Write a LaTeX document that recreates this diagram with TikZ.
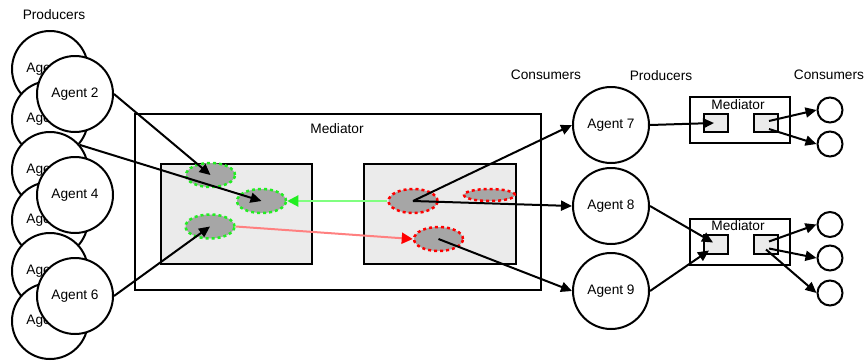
\documentclass[tikz,border=0pt]{standalone}
\usepackage{fontspec}
\setmainfont{Liberation Sans}
\usetikzlibrary{arrows.meta,shapes.geometric}
\definecolor{boxgray}{HTML}{EBEBEB}
\definecolor{slotgray}{HTML}{A6A6A6}
\definecolor{linkgreen}{HTML}{80FF80}
\definecolor{linkred}{HTML}{FF8080}
\definecolor{dashgreen}{HTML}{22EE22}
\definecolor{dashred}{HTML}{FF0000}
\tikzset{
  agent/.style={circle, draw, line width=2pt, fill=white, minimum size=76pt, inner sep=0pt},
  sink/.style={circle, draw, line width=2pt, fill=white, minimum size=25pt, inner sep=0pt},
  frame/.style={draw, line width=2pt, fill=white, inner sep=0pt, anchor=north west},
  pool/.style={draw, line width=2pt, fill=boxgray, inner sep=0pt, anchor=north west},
  slot/.style={ellipse, fill=slotgray, line width=2.5pt, dash pattern=on 3pt off 3pt,
               minimum width=49pt, minimum height=24pt, inner sep=0pt},
  inslot/.style={slot, draw=dashgreen},
  outslot/.style={slot, draw=dashred},
  link/.style={line width=2pt, -{Triangle[length=11pt,width=10pt]}},
  caption/.style={inner sep=0pt}
}
\begin{document}
\begin{tikzpicture}[x=1pt, y=-1pt, font=\fontsize{13.7}{16}\selectfont]
\useasboundingbox (0,0) rectangle (868,362);

% producers on the left: stacked agents
\node[caption] (prodL) at (54,15) {Producers};
\node[agent] (bk1) at (50,69)  {Agent 1};
\node[agent] (bk2) at (50,119) {Agent 1};
\node[agent] (a2)  at (75,94)  {Agent 2};
\node[agent] (bk3) at (50,170) {Agent 3};
\node[agent] (bk4) at (50,220) {Agent 3};
\node[agent] (a4)  at (75,195) {Agent 4};
\node[agent] (bk5) at (50,271) {Agent 5};
\node[agent] (bk6) at (50,321) {Agent 5};
\node[agent] (a6)  at (75,296) {Agent 6};

% central mediator with its two pools
\node[frame, minimum width=406pt, minimum height=176pt] (med) at (134,113) {};
\node[caption] (medlbl) at (337,129) {Mediator};
\node[pool, minimum width=151pt, minimum height=100pt] (poolL) at (160,163) {};
\node[pool, minimum width=152pt, minimum height=100pt] (poolR) at (363,163) {};

\node[inslot] (e1) at (210.5,175) {};
\node[inslot] (e2) at (261.5,201) {};
\node[inslot] (e3) at (210,226.5) {};
\node[outslot] (r1) at (413,201) {};
\node[outslot, minimum width=51pt, minimum height=12pt] (r2) at (489.5,195) {};
\node[outslot] (r3) at (438.5,239) {};

% links inside the mediator
\draw[line width=2pt, draw=linkgreen, -{Triangle[length=11pt,width=11pt,color=dashgreen]}] (r1.west) -- (e2.east);
\draw[line width=2pt, draw=linkred, -{Triangle[length=11pt,width=11pt,color=dashred]}] (e3.east) -- (r3.west);

% producer links
\draw[link] (a2.east) -- (e1.center);
\draw[link] (bk3.40) -- (e2.center);
\draw[link] (a6.east) -- (e3.center);

% consumers / producers in the middle
\node[caption] (consM) at (546,75) {Consumers};
\node[caption] (prodM) at (661,76) {Producers};
\node[caption] (consR) at (829,75) {Consumers};
\node[agent] (a7) at (611,125) {Agent 7};
\node[agent] (a8) at (611,206) {Agent 8};
\node[agent] (a9) at (611,291) {Agent 9};

\draw[link] (r1.center) -- (a7.west);
\draw[link] (r1.center) -- (a8.west);
\draw[link] (r3.center) -- (a9.west);

% upper small mediator
\node[frame, minimum width=100pt, minimum height=46pt] (m1) at (689,96) {};
\node[caption] (m1lbl) at (738,105) {Mediator};
\node[pool, minimum width=24pt, minimum height=18pt] (m1l) at (703,113) {};
\node[pool, minimum width=24pt, minimum height=18pt] (m1r) at (753,113) {};
\node[sink] (c1) at (830,110) {};
\node[sink] (c2) at (830,144) {};

\draw[link] (a7.east) -- ([shift={(-2,0)}]m1l.center);
\draw[link] ([shift={(3,-2)}]m1r.center) -- (c1.west);
\draw[link] ([shift={(3,6)}]m1r.center) -- (c2.west);

% lower small mediator
\node[frame, minimum width=100pt, minimum height=46pt] (m2) at (689,218) {};
\node[caption] (m2lbl) at (738,226) {Mediator};
\node[pool, minimum width=24pt, minimum height=19pt] (m2l) at (703,234) {};
\node[pool, minimum width=24pt, minimum height=19pt] (m2r) at (753,234) {};
\node[sink] (c3) at (830,224.5) {};
\node[sink] (c4) at (830,258) {};
\node[sink] (c5) at (830,293) {};

\draw[link] (a8.east) -- ([shift={(-3,-2)}]m2l.center);
\draw[link] (a9.east) -- ([shift={(-7,6)}]m2l.center);
\draw[link] ([shift={(3,-3)}]m2r.center) -- (c3.west);
\draw[link] ([shift={(3,4)}]m2r.center) -- (c4.west);
\draw[link] ([shift={(0,5)}]m2r.center) -- (c5.west);
\end{tikzpicture}
\end{document}
